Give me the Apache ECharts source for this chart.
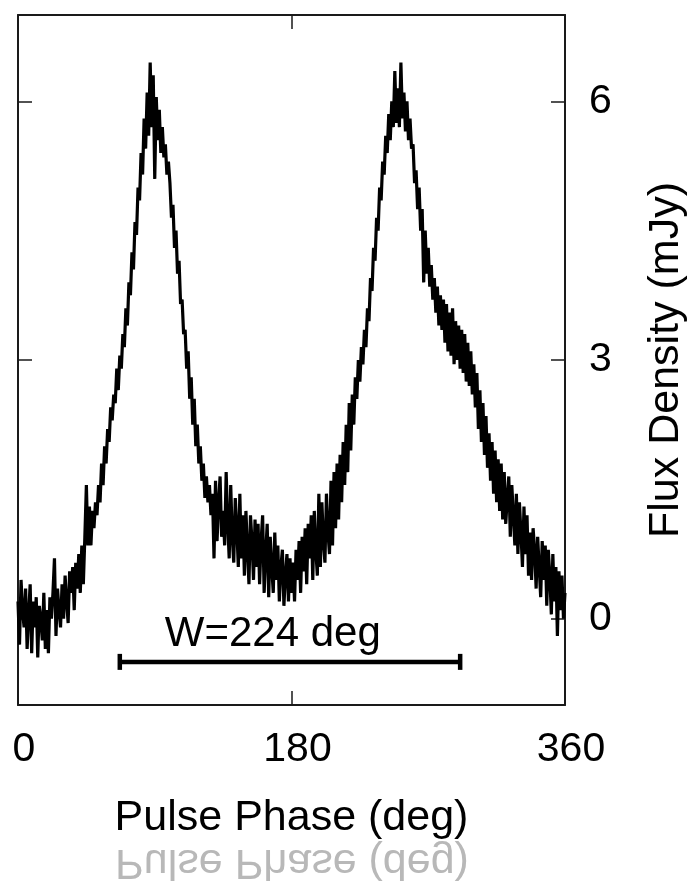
<!DOCTYPE html>
<html>
<head>
<meta charset="utf-8">
<script src="https://cdn.jsdelivr.net/npm/echarts@6/dist/echarts.min.js"></script>
<style>
html,body{margin:0;padding:0;background:#fff;}
#chart{width:690px;height:882px;}
</style>
</head>
<body>
<div id="chart"></div>
<script>
// Flux density (mJy) sampled every 1 deg of pulse phase, 0..360
const phaseStepDeg = 1;
const fluxDensity = [
 0.2,-0.3,0.45,0.1,-0.1,0.35,-0.35,0.05,0.4,-0.4,
 0.2,-0.1,0.25,-0.45,0.15,0.0,-0.25,0.3,-0.35,0.1,
 -0.4,0.25,0.0,0.3,0.7,-0.2,0.35,0.1,-0.1,0.4,
 0.0,0.5,0.2,-0.05,0.55,0.3,0.6,0.1,0.65,0.35,
 0.75,0.3,0.85,0.4,0.95,1.55,0.85,1.3,0.85,1.25,
 1.05,1.35,1.2,1.55,1.35,1.8,1.55,2.0,1.8,2.2,
 2.05,2.45,2.3,2.6,2.5,2.9,2.65,3.05,2.9,3.3,
 3.15,3.6,3.4,3.9,3.75,4.25,4.05,4.6,4.45,5.0,
 4.85,5.4,5.15,5.8,5.45,6.1,5.6,6.45,5.7,6.3,
 5.1,6.05,5.55,5.9,5.4,5.7,5.35,5.5,5.15,5.3,
 5.05,4.65,4.8,4.3,4.5,4.0,4.15,3.65,3.7,3.3,
 3.35,2.9,3.1,2.55,2.8,2.25,2.55,2.0,2.25,1.8,
 2.0,1.6,1.8,1.4,1.65,1.35,1.55,1.2,1.45,0.7,
 1.6,0.9,1.35,1.65,0.95,1.25,0.85,1.7,1.1,0.7,
 1.55,0.95,0.65,1.4,1.05,0.6,1.45,0.7,1.2,0.5,
 1.25,0.8,0.4,1.2,0.9,0.45,1.15,0.6,1.1,0.4,
 0.9,1.2,0.3,0.75,1.1,0.25,0.95,0.6,0.3,1.0,
 0.45,0.85,0.2,0.6,0.8,0.15,0.5,0.75,0.2,0.7,
 0.3,0.65,0.2,0.8,0.45,0.9,0.3,0.95,0.55,1.05,
 0.4,1.1,0.7,1.2,0.45,1.25,0.8,0.5,1.45,0.6,
 1.35,0.9,0.65,1.45,1.0,0.75,1.6,0.85,1.7,1.05,
 1.8,1.15,1.9,1.35,2.05,1.55,2.25,1.7,2.5,1.95,
 2.6,2.25,2.8,2.55,3.0,2.75,3.15,2.95,3.35,3.15,
 3.6,3.45,3.95,3.8,4.3,4.15,4.65,4.5,5.0,4.85,
 5.3,5.15,5.6,5.4,5.85,5.55,6.0,5.7,6.35,5.75,
 6.15,5.7,6.45,5.8,6.1,5.65,6.0,5.55,5.8,5.45,
 5.5,5.05,5.2,4.75,5.0,4.5,4.75,3.9,4.5,4.0,
 4.3,3.85,4.1,3.7,3.95,3.55,3.85,3.4,3.75,3.35,
 3.7,3.2,3.65,3.1,3.55,3.05,3.6,2.95,3.45,3.0,
 3.4,2.9,3.35,2.85,3.3,2.75,3.2,2.7,3.1,2.6,
 2.95,2.45,2.85,2.2,2.65,2.05,2.5,1.9,2.35,1.75,
 2.15,1.6,2.05,1.45,1.95,1.35,1.85,1.25,1.8,1.15,
 1.7,1.1,1.4,1.65,0.95,1.55,1.2,0.85,1.45,0.75,
 1.35,1.0,0.6,1.3,0.75,1.2,0.5,1.0,0.45,1.05,
 0.8,0.35,0.95,0.6,0.25,0.9,0.45,0.85,0.15,0.8,
 0.5,0.05,0.75,0.2,0.6,-0.2,0.55,0.1,0.5,0.0,
 0.3
];
const xTicks = [0, 180, 360];
const yTicks = [0, 3, 6];
const widthBarDeg = [67, 291];
const widthBarLevel = [-0.5];
const widthLabel = ['W=224 deg'];
const xTitle = 'Pulse Phase (deg)';
const yTitle = 'Flux Density (mJy)';

const profileData = fluxDensity.map((v, i) => [i * phaseStepDeg, v]);
const barData = [[widthBarDeg[0], widthBarDeg[1], widthBarLevel[0]]];

const FONT = '"Liberation Sans", Arial, Helvetica, sans-serif';
const AXC = '#1a1a1a';

const chart = echarts.init(document.getElementById('chart'), null, {renderer: 'canvas'});
const commonX = {
  type: 'value', min: xTicks[0], max: xTicks[2], interval: 180,
  axisLine: {show: true, onZero: false, lineStyle: {color: AXC, width: 2}},
  axisTick: {show: true, inside: true, length: 14, lineStyle: {color: AXC, width: 1.5}},
  splitLine: {show: false}
};
const commonY = {
  type: 'value', min: -1, max: 7,
  axisLine: {show: true, onZero: false, lineStyle: {color: AXC, width: 2}},
  axisTick: {show: true, inside: true, length: 14, customValues: yTicks, lineStyle: {color: AXC, width: 1.5}},
  splitLine: {show: false}
};

chart.setOption({
  animation: false,
  backgroundColor: '#fff',
  grid: {left: 18, right: 125, top: 15, bottom: 177, containLabel: false, outerBoundsMode: 'none'},
  xAxis: [
    Object.assign({}, commonX, {
      position: 'bottom',
      axisLabel: {show: true, margin: 24, color: '#000', fontSize: 41, fontFamily: FONT,
        padding: [0, 0, 0, 12],
        showMinLabel: true, showMaxLabel: true, customValues: xTicks},
      name: xTitle, nameLocation: 'middle', nameGap: 92,
      nameTextStyle: {color: '#000', fontSize: 43, fontFamily: FONT}
    }),
    Object.assign({}, commonX, {position: 'top', axisLabel: {show: false}})
  ],
  yAxis: [
    Object.assign({}, commonY, {
      position: 'right',
      axisLabel: {show: true, margin: 24, color: '#000', fontSize: 41, fontFamily: FONT, customValues: yTicks},
      name: yTitle, nameLocation: 'middle', nameGap: 80, nameRotate: 90,
      nameTextStyle: {color: '#000', fontSize: 43, fontFamily: FONT}
    }),
    Object.assign({}, commonY, {position: 'left', axisLabel: {show: false}})
  ],
  graphic: [{
    type: 'text',
    x: 292, y: 862, scaleY: -1,
    silent: true,
    style: {
      text: xTitle, fontSize: 43, fontFamily: FONT,
      fill: '#b8b8b8', textAlign: 'center', textVerticalAlign: 'middle'
    }
  }],
  series: [
    {
      type: 'line', xAxisIndex: 0, yAxisIndex: 0,
      data: profileData, showSymbol: false, symbol: 'none',
      lineStyle: {color: '#000', width: 3.2, join: 'miter', miterLimit: 2},
      clip: true, z: 3
    },
    {
      type: 'custom', xAxisIndex: 0, yAxisIndex: 0,
      data: barData, z: 4,
      renderItem: function (params, api) {
        const p0 = api.coord([api.value(0), api.value(2)]);
        const p1 = api.coord([api.value(1), api.value(2)]);
        const cap = 8;
        return {
          type: 'group',
          children: [
            {type: 'line', shape: {x1: p0[0], y1: p0[1], x2: p1[0], y2: p1[1]}, style: {stroke: '#000', lineWidth: 4.5}},
            {type: 'line', shape: {x1: p0[0], y1: p0[1] - cap, x2: p0[0], y2: p0[1] + cap}, style: {stroke: '#000', lineWidth: 4.5}},
            {type: 'line', shape: {x1: p1[0], y1: p1[1] - cap, x2: p1[0], y2: p1[1] + cap}, style: {stroke: '#000', lineWidth: 4.5}},
            {type: 'text', x: p0[0] + 45, y: p0[1] - 6,
              style: {text: widthLabel[0], fontSize: 42, fontFamily: FONT, fill: '#000', textAlign: 'left', textVerticalAlign: 'bottom'}}
          ]
        };
      }
    }
  ]
});
</script>
</body>
</html>
